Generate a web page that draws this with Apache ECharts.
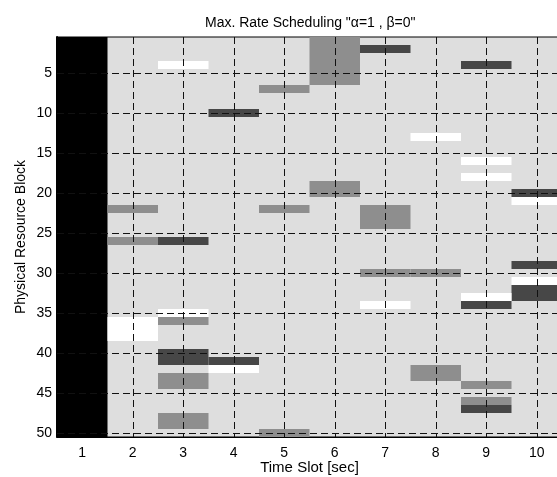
<!DOCTYPE html>
<html>
<head>
<meta charset="utf-8">
<script src="https://cdn.jsdelivr.net/npm/echarts@6/dist/echarts.min.js"></script>
<style>html,body{margin:0;padding:0;background:#fff;}#c{width:557px;height:477px;}</style>
</head>
<body>
<div id="c"></div>
<script>
// Time slots (x) and resource-block ticks (y)
const slotTicks = [1, 2, 3, 4, 5, 6, 7, 8, 9, 10];
const rbTicks = [5, 10, 15, 20, 25, 30, 35, 40, 45, 50];
const xGrid = [2, 3, 4, 5, 6, 7, 8, 9, 10];
const yGrid = [5, 10, 15, 20, 25, 30, 35, 40, 45, 50];

// Allocated cells: [time slot, first RB, last RB]
const blackCells = [[1, 1, 50]];
const darkCells = [
  [7, 2, 2], [9, 4, 4], [4, 10, 10], [10, 20, 20], [3, 26, 26], [10, 29, 29],
  [10, 32, 33], [9, 34, 34], [3, 40, 41], [4, 41, 41], [9, 47, 47]
];
const midCells = [
  [6, 1, 6], [5, 7, 7], [6, 19, 20], [2, 22, 22], [5, 22, 22], [7, 22, 24],
  [2, 26, 26], [7, 30, 30], [8, 30, 30], [3, 36, 36], [3, 43, 44], [8, 42, 43],
  [9, 44, 44], [9, 46, 46], [3, 48, 49], [5, 50, 50]
];
const whiteCells = [
  [3, 4, 4], [8, 13, 13], [9, 16, 16], [9, 18, 18], [10, 21, 21], [10, 31, 31],
  [9, 33, 33], [7, 34, 34], [3, 35, 35], [2, 36, 38], [4, 42, 42]
];

const FONT = 'Liberation Sans, Arial, sans-serif';

function cellSeries(name, data, color, extra) {
  return Object.assign({
    name: name,
    type: 'custom',
    clip: true,
    silent: true,
    animation: false,
    z: 2,
    data: data,
    renderItem: function (params, api) {
      const x = api.value(0), r0 = api.value(1), r1 = api.value(2);
      const p0 = api.coord([x - 0.5, r0 - 0.5]);
      const p1 = api.coord([x + 0.5, r1 + 0.5]);
      return {
        type: 'rect',
        shape: {
          x: Math.min(p0[0], p1[0]),
          y: Math.min(p0[1], p1[1]),
          width: Math.abs(p1[0] - p0[0]),
          height: Math.abs(p1[1] - p0[1])
        },
        style: { fill: color }
      };
    }
  }, extra || {});
}

const gridLineData = xGrid.map(v => ({ xAxis: v })).concat(yGrid.map(v => ({ yAxis: v })));

const chart = echarts.init(document.getElementById('c'), null, { renderer: 'canvas' });
chart.setOption({
  animation: false,
  backgroundColor: '#ffffff',
  title: {
    text: 'Max. Rate Scheduling "\u03b1=1 , \u03b2=0"',
    left: 200,
    top: 11,
    textStyle: { fontFamily: FONT, fontSize: 14, fontWeight: 'normal', color: '#000' }
  },
  grid: {
    left: 57, top: 37, right: -5, bottom: 40,
    containLabel: false,
    outerBoundsMode: 'none',
    show: true,
    backgroundColor: '#dedede',
    borderColor: '#000',
    borderWidth: 1
  },
  xAxis: {
    type: 'value',
    min: 0.5, max: 10.5,
    name: 'Time Slot [sec]',
    nameLocation: 'middle',
    nameGap: 23,
    nameMoveOverlap: false,
    nameTextStyle: { fontFamily: FONT, fontSize: 15, color: '#000' },
    axisLine: { show: true, lineStyle: { color: '#000', width: 1 } },
    axisTick: { show: false },
    splitLine: { show: false },
    axisLabel: {
      customValues: slotTicks,
      margin: 9,
      fontFamily: FONT, fontSize: 14, color: '#000'
    }
  },
  yAxis: {
    type: 'value',
    min: 0.5, max: 50.5,
    inverse: true,
    name: 'Physical Resource Block',
    nameLocation: 'middle',
    nameGap: 29,
    nameMoveOverlap: false,
    nameTextStyle: { fontFamily: FONT, fontSize: 14, color: '#000' },
    axisLine: { show: true, lineStyle: { color: '#000', width: 2 } },
    axisTick: { show: false },
    splitLine: { show: false },
    axisLabel: {
      customValues: rbTicks,
      margin: 5,
      fontFamily: FONT, fontSize: 14, color: '#000'
    }
  },
  series: [
    cellSeries('black', blackCells, '#000000'),
    cellSeries('dark', darkCells, '#474747'),
    cellSeries('mid', midCells, '#8e8e8e'),
    cellSeries('white', whiteCells, '#ffffff', {
      markLine: {
        silent: true,
        animation: false,
        symbol: ['none', 'none'],
        label: { show: false },
        lineStyle: { color: '#111', width: 1, type: [7, 4] },
        emphasis: { disabled: true },
        data: gridLineData
      }
    })
  ]
});
</script>
</body>
</html>
